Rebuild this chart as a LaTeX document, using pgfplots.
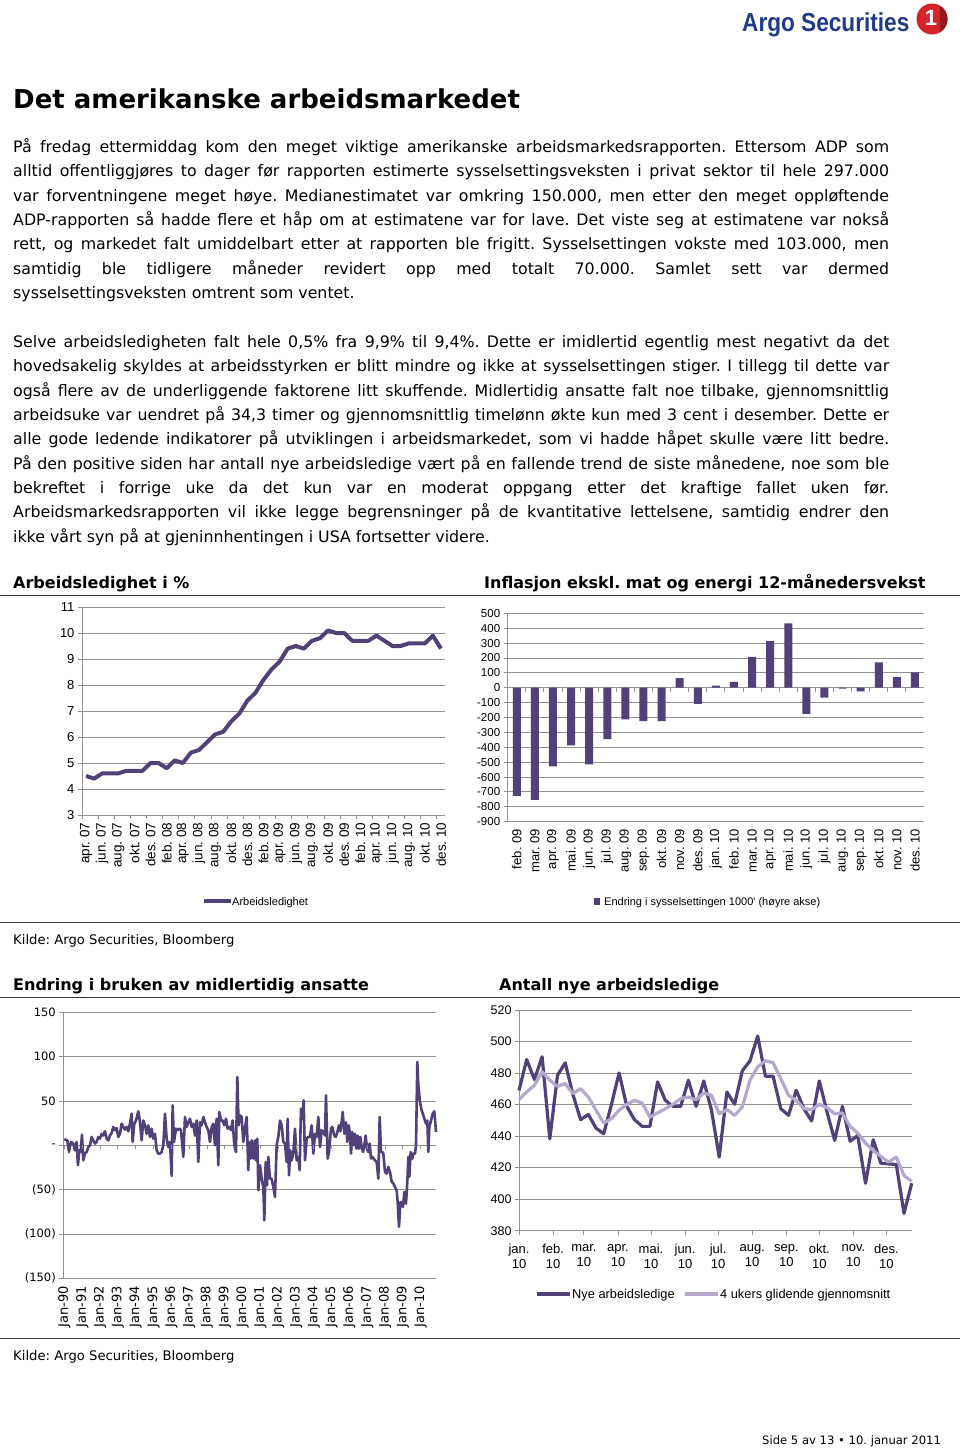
\documentclass[border=0pt]{standalone}
\usepackage{fontspec}
\setmainfont{DejaVu Sans}
\newfontfamily\arial{Liberation Sans}
\usepackage{pgfplots}
\pgfplotsset{compat=1.18}
\frenchspacing

\definecolor{argo}{RGB}{82,64,120}
\definecolor{argolight}{RGB}{180,168,206}
\definecolor{gridgrey}{RGB}{145,145,145}
\definecolor{logoblue}{RGB}{30,60,130}
\definecolor{logored}{RGB}{212,36,42}

\newcommand{\fs}[1]{\fontsize{#1}{#1}\selectfont}
% one justified text line / one last line of a paragraph (baseline y in px from top)
\newcommand{\jline}[2]{\node[anchor=base west,inner sep=0pt] at (13,-#1) {\makebox[876pt][s]{#2}};}
\newcommand{\lline}[2]{\node[anchor=base west,inner sep=0pt] at (13,-#1) {#2};}

\pgfplotsset{
  argo chart/.style={
    scale only axis, clip=false,
    axis x line*=bottom, axis y line*=left,
    axis line style={gridgrey, line width=0.9pt},
    ymajorgrids, grid style={gridgrey, line width=0.9pt},
    tick style={gridgrey, line width=0.9pt},
    tick align=outside, major tick length=4pt,
    /pgf/number format/assume math mode=true,
  },
}

\begin{document}
\begin{tikzpicture}[x=1pt,y=1pt]
\useasboundingbox (0,0) rectangle (960,-1449);

% header logo
\node[anchor=base west, inner sep=0pt, text=logoblue, font=\arial\bfseries\fs{26}] at (742,-31) {\scalebox{0.87}[1]{Argo Securities}};
\fill[logored] (932,-19) circle (15.5);
\fill[logored!70!black] (932,-19) ++(-60:15.5) arc (-60:60:15.5) -- cycle;
\node[text=white, font=\arial\bfseries\fs{22}] at (931,-18) {1};

% title and body text
\node[anchor=base west, inner sep=0pt, font=\bfseries\fs{26}] at (13,-108.5) {Det amerikanske arbeidsmarkedet};

\begin{scope}[font=\fs{15.8}]
\jline{152}{På fredag ettermiddag kom den meget viktige amerikanske arbeidsmarkedsrapporten. Ettersom ADP som}
\jline{176}{alltid offentliggjøres to dager før rapporten estimerte sysselsettingsveksten i privat sektor til hele 297.000}
\jline{201}{var forventningene meget høye. Medianestimatet var omkring 150.000, men etter den meget oppløftende}
\jline{225}{ADP-rapporten så hadde flere et håp om at estimatene var for lave. Det viste seg at estimatene var nokså}
\jline{249}{rett, og markedet falt umiddelbart etter at rapporten ble frigitt. Sysselsettingen vokste med 103.000, men}
\jline{274}{samtidig ble tidligere måneder revidert opp med totalt 70.000. Samlet sett var dermed}
\lline{298}{sysselsettingsveksten omtrent som ventet.}

\jline{347}{Selve arbeidsledigheten falt hele 0,5\% fra 9,9\% til 9,4\%. Dette er imidlertid egentlig mest negativt da det}
\jline{371}{hovedsakelig skyldes at arbeidsstyrken er blitt mindre og ikke at sysselsettingen stiger. I tillegg til dette var}
\jline{396}{også flere av de underliggende faktorene litt skuffende. Midlertidig ansatte falt noe tilbake, gjennomsnittlig}
\jline{420}{arbeidsuke var uendret på 34,3 timer og gjennomsnittlig timelønn økte kun med 3 cent i desember. Dette er}
\jline{444}{alle gode ledende indikatorer på utviklingen i arbeidsmarkedet, som vi hadde håpet skulle være litt bedre.}
\jline{469}{På den positive siden har antall nye arbeidsledige vært på en fallende trend de siste månedene, noe som ble}
\jline{493}{bekreftet i forrige uke da det kun var en moderat oppgang etter det kraftige fallet uken før.}
\jline{517}{Arbeidsmarkedsrapporten vil ikke legge begrensninger på de kvantitative lettelsene, samtidig endrer den}
\lline{542}{ikke vårt syn på at gjeninnhentingen i USA fortsetter videre.}
\end{scope}

% section headings with rules
\begin{scope}[font=\bfseries\fs{16}]
\node[anchor=base west, inner sep=0pt] at (13,-588) {Arbeidsledighet i \%};
\node[anchor=base west, inner sep=0pt] at (484,-588) {Inflasjon ekskl. mat og energi 12-månedersvekst};
\node[anchor=base west, inner sep=0pt] at (13,-990) {Endring i bruken av midlertidig ansatte};
\node[anchor=base west, inner sep=0pt] at (499,-990) {Antall nye arbeidsledige};
\end{scope}
\draw[black!80, line width=1pt] (0,-595.5) -- (960,-595.5);
\draw[black!80, line width=1pt] (0,-997.5) -- (960,-997.5);
\draw[black!80, line width=1pt] (0,-922) -- (960,-922);
\draw[black!80, line width=1pt] (0,-1338) -- (960,-1338);
\node[anchor=base west, inner sep=0pt, font=\fs{13.2}] at (13,-944) {Kilde: Argo Securities, Bloomberg};
\node[anchor=base west, inner sep=0pt, font=\fs{13.2}] at (13,-1360) {Kilde: Argo Securities, Bloomberg};
\node[anchor=base west, inner sep=0pt, font=\fs{11.6}] at (762,-1444.5) {Side 5 av 13 • 10. januar 2011};

% ---------- chart 1: unemployment rate ----------
\begin{axis}[argo chart,
  at={(82pt,-815pt)}, anchor=south west,
  width=363pt, height=208pt,
  xmin=-0.5, xmax=44.5, ymin=3, ymax=11,
  ytick={3,4,...,11},
  xtick={0,2,...,44}, xtick style={draw=none},
  xticklabels={apr. 07,jun. 07,aug. 07,okt. 07,des. 07,feb. 08,apr. 08,jun. 08,aug. 08,okt. 08,des. 08,feb. 09,apr. 09,jun. 09,aug. 09,okt. 09,des. 09,feb. 10,apr. 10,jun. 10,aug. 10,okt. 10,des. 10},
  xticklabel style={rotate=90, anchor=east, font=\arial\fs{13.5}},
  yticklabel style={font=\arial\fs{13}},
]
\addplot[argo, line width=4pt, line join=round] coordinates {
(0,4.5) (1,4.4) (2,4.6) (3,4.6) (4,4.6) (5,4.7) (6,4.7) (7,4.7) (8,5.0) (9,5.0)
(10,4.8) (11,5.1) (12,5.0) (13,5.4) (14,5.5) (15,5.8) (16,6.1) (17,6.2) (18,6.6) (19,6.9)
(20,7.4) (21,7.7) (22,8.2) (23,8.6) (24,8.9) (25,9.4) (26,9.5) (27,9.4) (28,9.7) (29,9.8)
(30,10.1) (31,10.0) (32,10.0) (33,9.7) (34,9.7) (35,9.7) (36,9.9) (37,9.7) (38,9.5) (39,9.5)
(40,9.6) (41,9.6) (42,9.6) (43,9.9) (44,9.4)};
\pgfplotsinvokeforeach{-0.5,1.5,...,43.5}{\draw[gridgrey, line width=0.9pt] (axis cs:#1,3) -- ++(0pt,-4pt);}
\end{axis}

% ---------- chart 2: payroll change ----------
\begin{axis}[argo chart,
  at={(507.7pt,-821.7pt)}, anchor=south west,
  width=416.3pt, height=208.4pt,
  ybar, bar width=8pt,
  xmin=-0.5, xmax=22.5, ymin=-900, ymax=500,
  ytick={-900,-800,...,500},
  yticklabels={-900,-800,-700,-600,-500,-400,-300,-200,-100,0,100,200,300,400,500},
  xtick={0,1,...,22}, xtick style={draw=none},
  xticklabels={feb. 09,mar. 09,apr. 09,mai. 09,jun. 09,jul. 09,aug. 09,sep. 09,okt. 09,nov. 09,des. 09,jan. 10,feb. 10,mar. 10,apr. 10,mai. 10,jun. 10,jul. 10,aug. 10,sep. 10,okt. 10,nov. 10,des. 10},
  xticklabel style={rotate=90, anchor=east, font=\arial\fs{13}},
  yticklabel style={font=\arial\fs{11.5}},
]
\addplot[fill=argo, draw=none] coordinates {
(0,-726) (1,-753) (2,-528) (3,-387) (4,-515) (5,-346) (6,-212) (7,-225) (8,-224) (9,64)
(10,-109) (11,14) (12,39) (13,208) (14,313) (15,432) (16,-175) (17,-66) (18,-6) (19,-24)
(20,171) (21,71) (22,103)};
\pgfplotsinvokeforeach{0.5,1.5,...,21.5}{\draw[gridgrey, line width=0.9pt] (axis cs:#1,0) -- ++(0pt,-4pt);}
\end{axis}

% legends of the two upper charts
\draw[argo, line width=4pt] (204,-901) -- (231,-901);
\node[anchor=base west, inner sep=0pt, font=\arial\fs{11}] at (232,-905) {Arbeidsledighet};
\fill[argo] (594,-897.5) rectangle (600,-904.5);
\node[anchor=base west, inner sep=0pt, font=\arial\fs{11}] at (604,-905) {Endring i sysselsettingen 1000' (høyre akse)};

% ---------- chart 3: temporary help (x in chart units, 53.43 per year) ----------
\begin{axis}[argo chart,
  at={(63.3pt,-1278.3pt)}, anchor=south west,
  width=372.7pt, height=266pt,
  xmin=10, xmax=1128, ymin=-150, ymax=150,
  ytick={-150,-100,...,150},
  yticklabels={(150),(100),(50),-,50,100,150},
  xtick={13.5,66.93,...,1083}, xtick style={draw=none},
  xticklabels={Jan-90,Jan-91,Jan-92,Jan-93,Jan-94,Jan-95,Jan-96,Jan-97,Jan-98,Jan-99,Jan-00,Jan-01,Jan-02,Jan-03,Jan-04,Jan-05,Jan-06,Jan-07,Jan-08,Jan-09,Jan-10},
  xticklabel style={rotate=90, anchor=east, font=\fs{13}},
  yticklabel style={font=\fs{11.5}},
]
\addplot[argo, line width=2.6pt, line join=round] coordinates {
(13,6.8) (22,5.6) (27,-7.5) (33,3.8) (40,2) (45,-5.6) (50,3.8) (54,-22.6) (58,-5.6) (62,-7.5)
(66,12) (70,-17) (75,-9) (80,-7.5) (85,-2) (90,0) (95,9.4) (100,5.6) (105,2) (110,3.8)
(115,9.4) (120,7.5) (125,13) (130,11) (135,15.8) (140,7.5) (145,5.6) (150,11) (155,14) (160,20.7)
(165,17) (170,19.5) (175,9.4) (180,13) (185,24.4) (190,20.7) (195,17.7) (200,20.7) (205,15.8) (210,24.4)
(215,35.7) (218,3.8) (223,24.4) (228,28) (235,38.3) (240,26) (245,5.6) (250,28) (255,22.6) (260,13)
(265,22.6) (270,9.4) (275,18.8) (280,7.5) (285,13) (290,-5.6) (295,-9.4) (300,-9.4) (305,-7.5) (310,0)
(315,35.7) (320,7.5) (325,-2) (330,3.8) (335,-34.6) (338,45) (342,3.8) (348,18.8) (353,17) (358,18.8)
(363,17) (370,-13) (375,32) (380,20.7) (385,26) (390,30) (395,20.7) (400,24.4) (405,11) (410,28)
(415,-18.8) (420,26) (425,22.6) (430,32) (435,26) (440,20.7) (445,17) (450,3.8) (455,20.7) (460,24.4)
(465,0) (470,30) (475,-22.6) (478,37.6) (483,28) (488,28) (493,22.6) (498,30) (503,18.8) (508,20.7)
(513,17) (518,28) (523,0) (528,-7.5) (532,77) (536,22.6) (540,33.8) (545,32) (550,3.8) (555,18.8)
(560,32) (565,-28) (567,3.8) (572,-15) (575,5.6) (580,-15) (585,5.6) (588,-17) (592,7.5) (595,-50.8)
(600,-22.6) (605,-37.6) (610,-47) (613,-84.6) (617,-18.8) (621,-45) (625,-13) (630,-37.6) (635,-37.6) (640,-47)
(645,-58.3) (650,0) (655,9.4) (660,28) (665,22.6) (670,3.8) (675,2) (680,-18.8) (683,30) (687,-33.8)
(691,-5.6) (695,-17) (700,-9.4) (705,18.8) (710,-17) (715,-13) (719,-28) (723,41.4) (727,30) (731,50.8)
(735,-17) (740,7.5) (745,9.4) (750,9.4) (755,22.6) (760,-9.4) (765,13) (770,9.4) (775,32) (780,-2)
(785,17) (790,15) (795,11) (798,56.4) (803,-15) (807,-7.5) (813,18.8) (817,20.7) (823,11) (827,9.4)
(831,13) (837,22.6) (841,15.8) (845,26) (848,37.6) (853,13) (858,26) (862,3.8) (866,22.6) (870,13)
(873,-9.4) (877,15) (881,0) (885,13) (889,-3.8) (893,11) (897,-3.8) (901,9.4) (905,-2) (909,-7.5)
(913,0) (917,11) (921,-3.8) (925,-7.5) (929,2) (933,-15) (937,-13) (941,-15) (945,-17) (950,-18.8)
(955,-37.6) (959,32) (963,-7.5) (967,-7.5) (970,-9.4) (975,-30) (980,-32) (985,-24.4) (990,-30) (995,-41)
(1000,-43) (1005,-47) (1010,-50.8) (1013,-64) (1017,-92) (1021,-64) (1025,-64) (1029,-69.5) (1033,-52.6) (1038,-65.8)
(1042,-41) (1045,-13) (1048,-35.7) (1052,-7.5) (1057,-15) (1060,-9.4) (1065,-9.4) (1068,0) (1072,94) (1075,67.7)
(1080,49) (1085,39.5) (1090,33.8) (1095,28) (1098,24.4) (1102,28) (1105,-7.5) (1108,20.7) (1113,28) (1118,35.7)
(1123,38.3) (1128,15)};
\pgfplotsinvokeforeach{13.5,66.93,...,1083}{\draw[gridgrey, line width=0.9pt] (axis cs:#1,0) -- ++(0pt,-3.5pt);}
\end{axis}

% ---------- chart 4: initial jobless claims 2010 (x in days) ----------
\begin{axis}[argo chart,
  at={(519pt,-1230.7pt)}, anchor=south west,
  width=392.7pt, height=220.7pt,
  xmin=0, xmax=357, ymin=380, ymax=520,
  ytick={380,400,...,520},
  xtick={0,31,59,90,120,151,181,212,243,273,304,334},
  xticklabels={{jan.\\10},{feb.\\10},{mar.\\10},{apr.\\10},{mai.\\10},{jun.\\10},{jul.\\10},{aug.\\10},{sep.\\10},{okt.\\10},{nov.\\10},{des.\\10}},
  xticklabel style={align=center, font=\arial\fontsize{13}{15}\selectfont, yshift=-6pt},
  yticklabel style={font=\arial\fs{12.5}},
]
\addplot[argo, line width=3.2pt, line join=round] coordinates {
(0,469) (7,488.6) (14,475.9) (21,490.3) (28,438.3) (35,478.6) (42,486.5) (49,466.5) (56,450.4) (63,453.8)
(70,445.1) (77,441.5) (84,460) (91,480.1) (98,458.9) (105,450.4) (112,446.2) (119,446.2) (126,474.4) (133,462.7)
(140,458.9) (147,458.9) (154,475.5) (161,458.9) (168,475) (175,456.4) (182,426.7) (189,468) (196,460.2) (203,481.4)
(210,487.8) (217,503.5) (224,478) (231,478) (238,457.4) (245,453.2) (252,469.1) (259,457.4) (266,449.6) (273,475)
(280,455.3) (287,437.3) (294,458.9) (301,436.8) (308,440.4) (315,410.1) (322,437.7) (329,422.8) (336,422.4) (343,422)
(350,391) (357,410.1)};
\addplot[argolight, line width=3.2pt, line join=round] coordinates {
(0,463.1) (7,468) (14,472.3) (21,480.8) (28,475.5) (35,471.6) (42,473.3) (49,467) (56,470.1) (63,464.8)
(70,456.4) (77,448.3) (84,451.1) (91,456.4) (98,460.2) (105,462.7) (112,461) (119,452.1) (126,454.7) (133,457.4)
(140,460.2) (147,463.8) (154,464.8) (161,463.1) (168,467.4) (175,465.9) (182,454.2) (189,456.8) (196,453.2) (203,458.5)
(210,475.5) (217,483.9) (224,487.8) (231,486.5) (238,476.5) (245,465.9) (252,462.7) (259,457.4) (266,456.8) (273,460.2)
(280,458.1) (287,454.2) (294,454.7) (301,446.2) (308,441.9) (315,435.6) (322,430.9) (329,427.1) (336,423.5) (343,426.7)
(350,415) (357,411.4)};
\end{axis}

% legend of chart 4
\draw[argo, line width=3.2pt] (537,-1294) -- (570,-1294);
\node[anchor=base west, inner sep=0pt, font=\arial\fs{12.8}] at (572,-1298.5) {Nye arbeidsledige};
\draw[argolight, line width=3.2pt] (685,-1294) -- (718,-1294);
\node[anchor=base west, inner sep=0pt, font=\arial\fs{12.8}] at (720,-1298.5) {4 ukers glidende gjennomsnitt};
\end{tikzpicture}
\end{document}
